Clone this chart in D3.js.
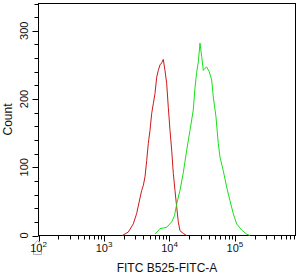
<!DOCTYPE html>
<html>
<head>
<meta charset="utf-8">
<script src="https://cdn.jsdelivr.net/npm/d3@7"></script>
<style>
html,body{margin:0;padding:0;background:#fff;}
svg{display:block;}
text{font-family:"Liberation Sans",Arial,sans-serif;fill:#111;}
</style>
</head>
<body>
<svg id="c" width="300" height="274"></svg>
<script>
// ---- data ----
const redIntensity = [1900,2350,2800,3150,3760,3980,4230,4490,4750,5040,5350,5660,6010,6380,6750,7160,7600,8040,8530,9060,9590,10190,10810,11440,12140,12880,13620,14460,16250,18320];
const redCount     = [0,5,17,32,66,73,86,110,135,154,179,193,208,232,242,250,253,258,242,223,188,154,125,91,66,42,20,7,3,0];
const greenIntensity = [6010,7160,9060,10810,11920,12880,14460,16250,18320,20560,23080,24500,26000,27540,29240,31040,32840,34840,36990,40530,44080,46650,51290,55610,59000,66250,74660,83880,94240,106100,126500,150900,169400];
const greenCount     = [2,10,12,20,29,46,66,92,125,154,184,216,239,254,282,262,242,245,247,240,228,203,174,135,115,95,71,51,32,17,8,2,0];
const yTickValues = [0,100,200,300];
const xMajorExponents = [2,3,4,5];
const xDomain = [100, 840000];
const yDomain = [0, 340];
const xTitle = "FITC B525-FITC-A";
const yTitle = "Count";

// ---- layout ----
const L = 38.5, R = 295.5, T = 3.5, B = 235.5;
const svg = d3.select("#c");
const x = d3.scaleLog().domain(xDomain).range([L, R]);
const y = d3.scaleLinear().domain(yDomain).range([B, T]);

// frame
svg.append("rect").attr("x", L).attr("y", T).attr("width", R - L).attr("height", B - T)
  .attr("fill", "none").attr("stroke", "#000").attr("stroke-width", 1);

// y ticks
const yAxis = svg.append("g");
d3.range(0, 341, 20).forEach(v => {
  const major = v % 100 === 0;
  const yy = Math.round(y(v)) + 0.5;
  yAxis.append("line").attr("x1", L - (major ? 6 : 4)).attr("x2", L)
    .attr("y1", yy).attr("y2", yy).attr("stroke", "#000");
});
yTickValues.forEach(v => {
  yAxis.append("text").attr("transform", `translate(27.5,${y(v)}) rotate(-90)`)
    .attr("text-anchor", "middle").attr("font-size", 11).text(v);
});
svg.append("text").attr("transform", `translate(11.5,${(T + B) / 2}) rotate(-90)`)
  .attr("text-anchor", "middle").attr("font-size", 12).text(yTitle);

// gray marker near origin
svg.append("path").attr("d", "M33.5,254.5 L33.5,245 L37.5,240.5 L41.5,245 L41.5,254.5 Z")
  .attr("fill", "none").attr("stroke", "#b0b0b0").attr("stroke-width", 1);

// x ticks
const xAxis = svg.append("g");
for (let e = 2; e <= 5; e++) {
  for (let m = 1; m <= 9; m++) {
    const v = m * Math.pow(10, e);
    if (v < xDomain[0] || v > xDomain[1]) continue;
    const xx = Math.round(x(v)) + 0.5;
    xAxis.append("line").attr("x1", xx).attr("x2", xx)
      .attr("y1", B).attr("y2", B + (m === 1 ? 6 : 4)).attr("stroke", "#000");
  }
}
xMajorExponents.forEach(e => {
  const t = xAxis.append("text").attr("x", x(Math.pow(10, e))).attr("y", 251.5)
    .attr("text-anchor", "middle").attr("font-size", 11);
  t.append("tspan").text("10");
  t.append("tspan").attr("dy", -5).attr("font-size", 8).text(e);
});
svg.append("text").attr("x", (L + R) / 2).attr("y", 272).attr("text-anchor", "middle")
  .attr("font-size", 12).text(xTitle);

// histograms
const line = d3.line().x(d => x(d[0])).y(d => y(d[1]));
svg.append("path").datum(redIntensity.map((v, i) => [v, redCount[i]]))
  .attr("d", line).attr("fill", "none").attr("stroke", "#d01818").attr("stroke-width", 1);
svg.append("path").datum(greenIntensity.map((v, i) => [v, greenCount[i]]))
  .attr("d", line).attr("fill", "none").attr("stroke", "#18e018").attr("stroke-width", 1);
</script>
</body>
</html>
